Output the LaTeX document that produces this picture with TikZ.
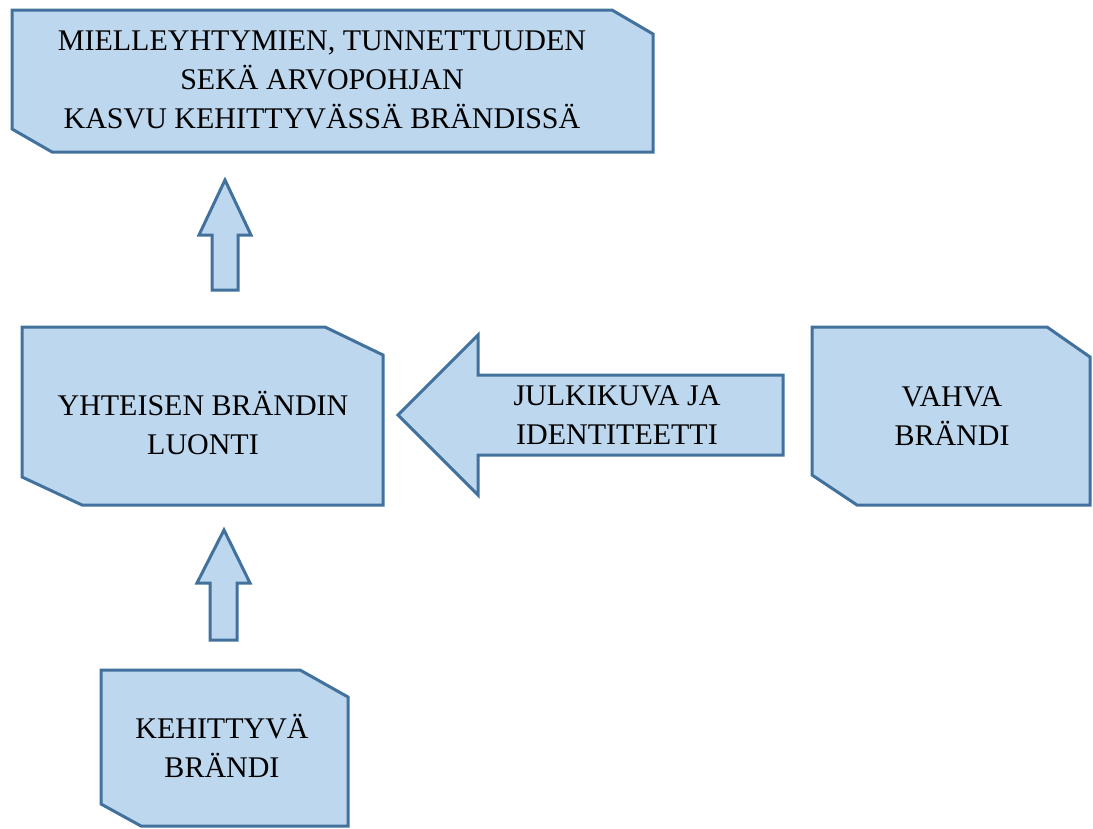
\documentclass[tikz,border=0pt]{standalone}
\usepackage{fontspec}
\setmainfont{Liberation Serif}
\definecolor{boxfill}{HTML}{BDD7EE}
\definecolor{boxline}{HTML}{41719C}
\begin{document}
\begin{tikzpicture}[x=1pt,y=-1pt,
  blk/.style={fill=boxfill,draw=boxline,line width=3pt,line join=miter},
  txt/.style={font=\fontsize{30}{39}\selectfont,align=center,text=black,inner sep=0pt}]
\useasboundingbox (0,0) rectangle (1093,828);
\clip (0,0) rectangle (1093,828);

% snipped-corner boxes
\draw[blk] (12,10) -- (612,10) -- (653,34) -- (653,152) -- (52,152) -- (12,129) -- cycle;
\draw[blk] (22,327) -- (325,327) -- (383,355) -- (383,505) -- (82,505) -- (22,477) -- cycle;
\draw[blk] (812,327) -- (1047,327) -- (1090,357) -- (1090,505) -- (857,505) -- (812,475) -- cycle;
\draw[blk] (101,670) -- (300,670) -- (348,697) -- (348,826) -- (141,826) -- (101,804) -- cycle;

% block arrows
\draw[blk] (225,180) -- (251,235) -- (238,235) -- (238,290) -- (212,290) -- (212,235) -- (199,235) -- cycle;
\draw[blk] (224,530) -- (250,583) -- (237,583) -- (237,640) -- (210,640) -- (210,583) -- (197,583) -- cycle;
\draw[blk] (398,415) -- (478,335) -- (478,375) -- (783,375) -- (783,455) -- (478,455) -- (478,495) -- cycle;

% texts
\node[txt] (growth) at (322,80) {MIELLEYHTYMIEN, TUNNETTUUDEN\\SEKÄ ARVOPOHJAN\\KASVU KEHITTYVÄSSÄ BRÄNDISSÄ};
\node[txt] (common) at (203,423) {YHTEISEN BRÄNDIN\\LUONTI};
\node[txt] (image) at (617,415) {JULKIKUVA JA\\IDENTITEETTI};
\node[txt] (strong) at (952,416) {VAHVA\\BRÄNDI};
\node[txt] (developing) at (222,746) {KEHITTYVÄ\\BRÄNDI};
\end{tikzpicture}
\end{document}
